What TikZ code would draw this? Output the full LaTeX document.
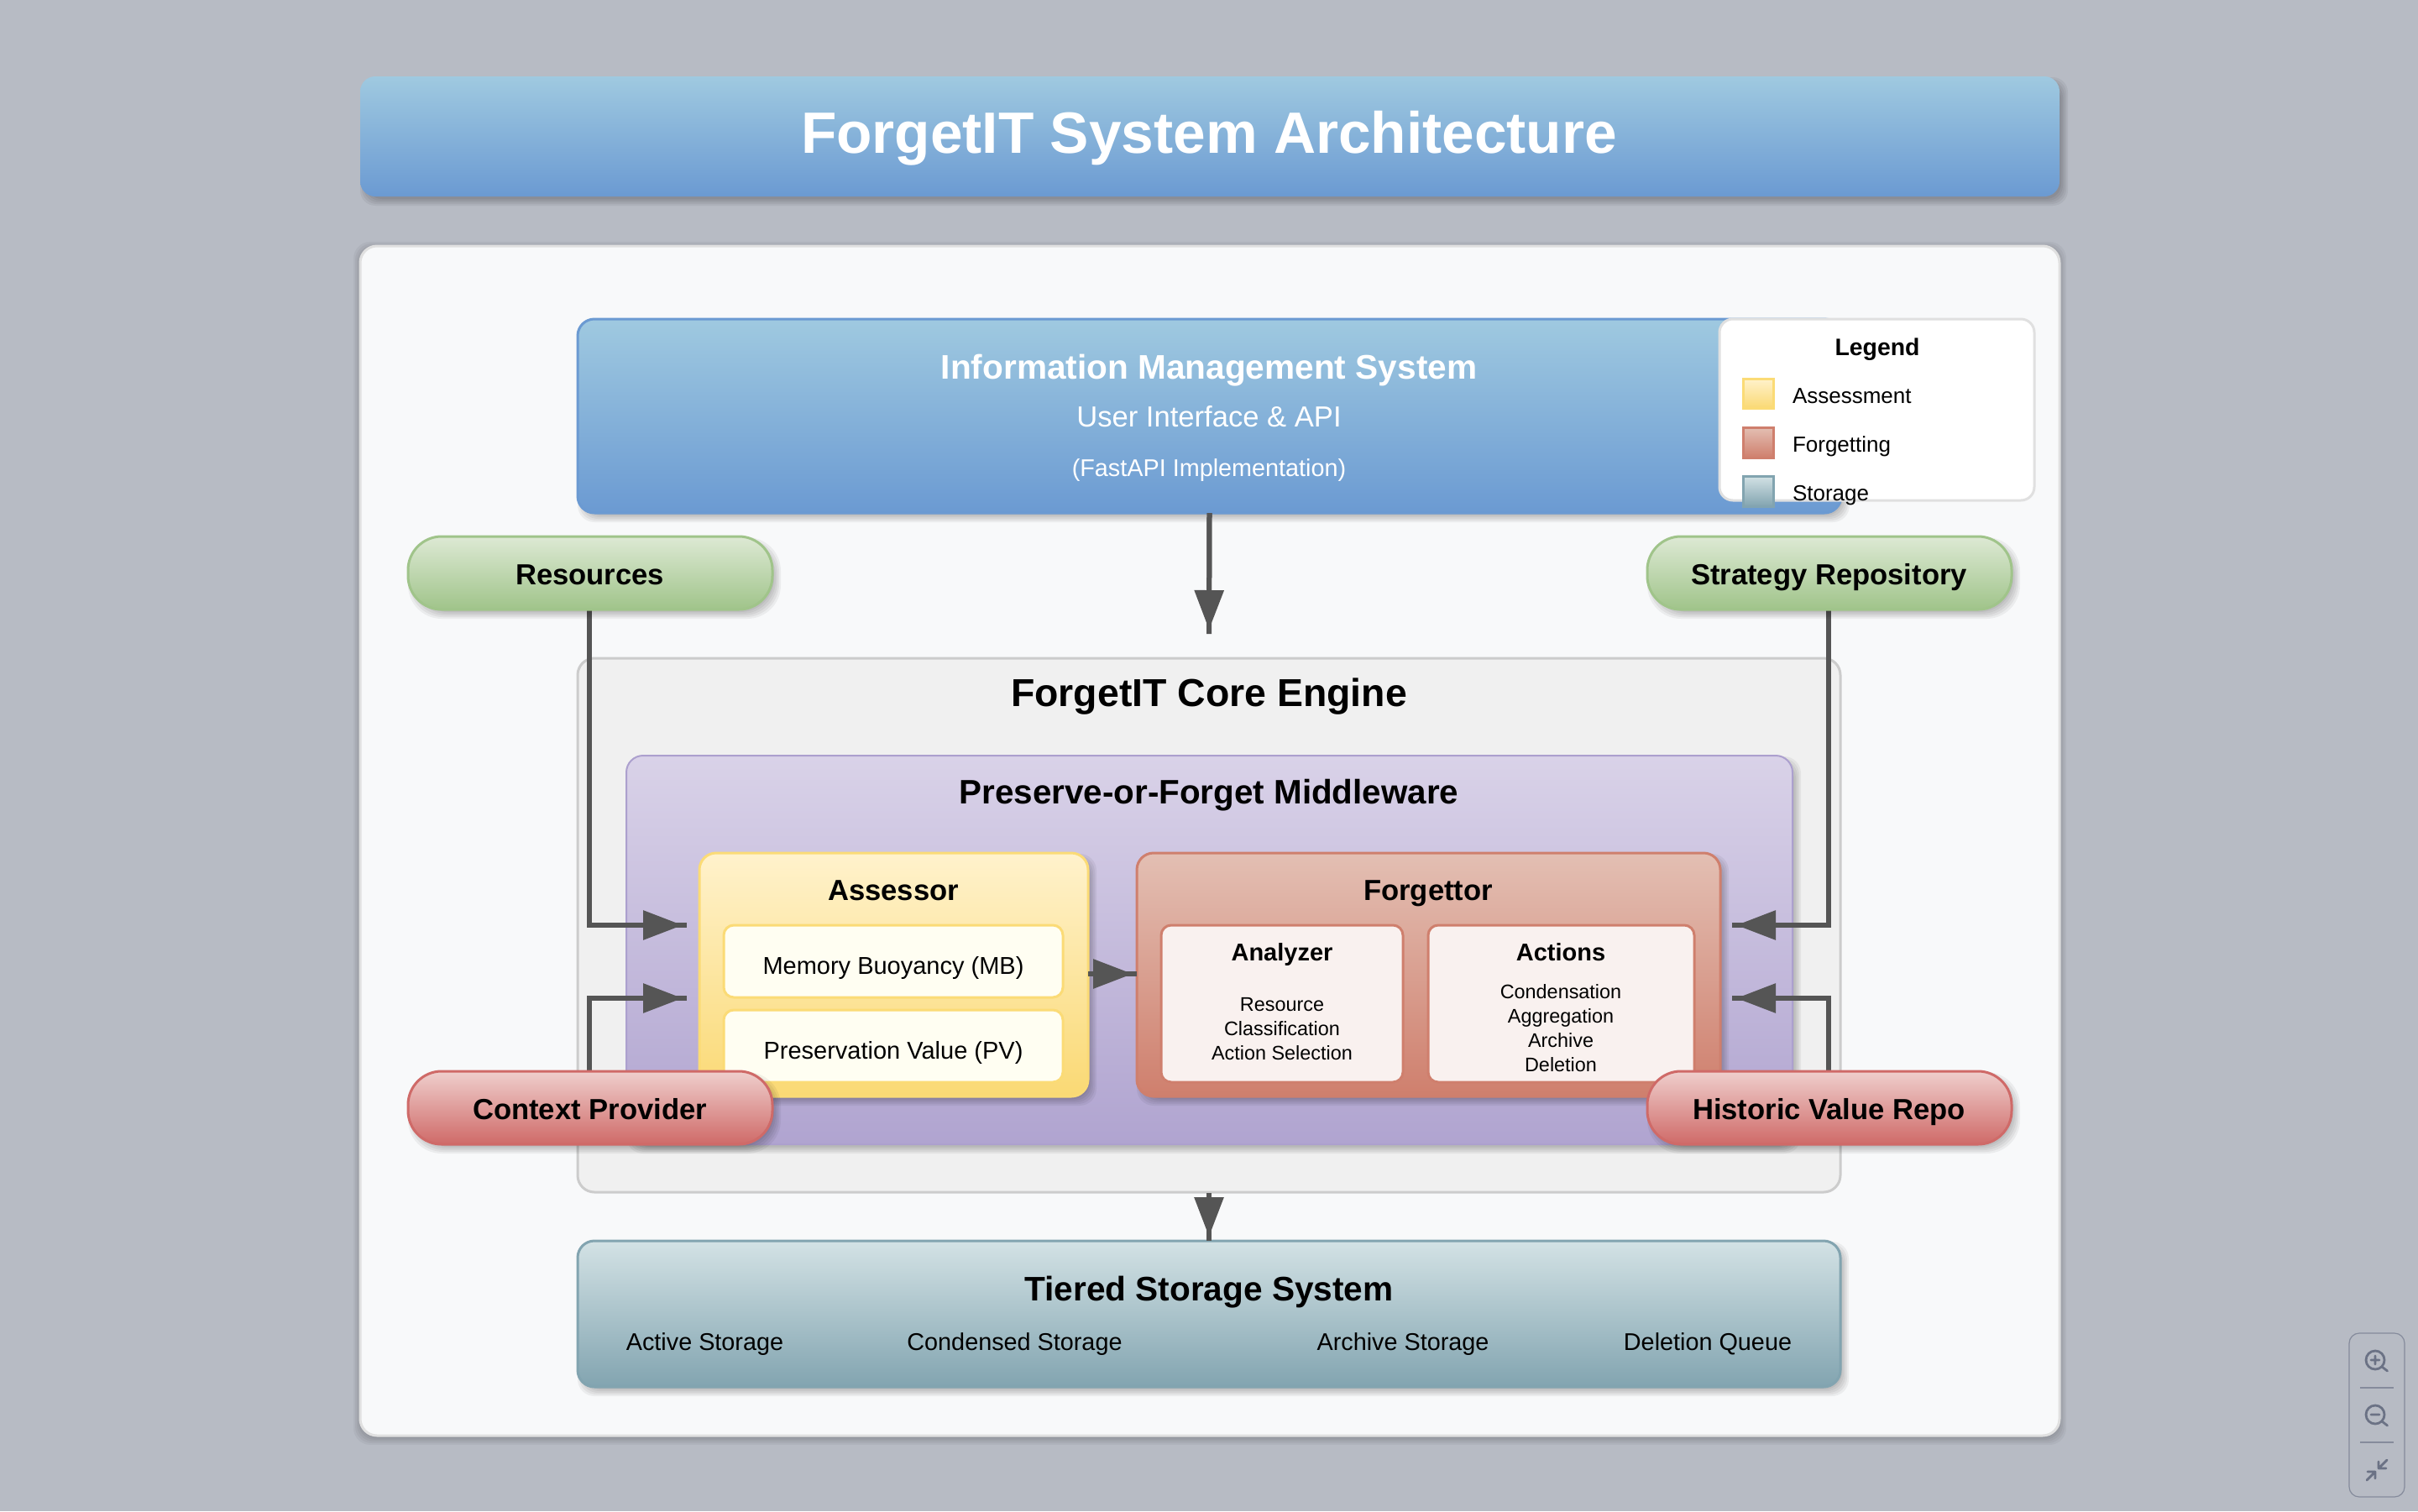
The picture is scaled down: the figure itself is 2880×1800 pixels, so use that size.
\documentclass[tikz,border=0pt]{standalone}
\usepackage{fontspec}
\setmainfont{Liberation Sans}
\usetikzlibrary{arrows.meta}
\definecolor{bgc}{HTML}{B7BBC4}
\definecolor{panelc}{HTML}{F8F9FA}
\definecolor{wirec}{HTML}{555555}
\definecolor{uic}{HTML}{6B7285}
\definecolor{uib}{HTML}{858B9C}
\tikzset{
  x=0.5pt,y=-0.5pt,
  plain/.style={rectangle,inner sep=0pt,outer sep=0pt},
  panelbox/.style={plain,fill=panelc,draw=black!12,line width=1.5pt,rounded corners=10pt},
  titlebox/.style={plain,top color=blueT,bottom color=blueB,rounded corners=9pt},
  imsbox/.style={plain,top color=blueT,bottom color=blueB,draw=blueB,line width=1.5pt,rounded corners=10pt},
  corebox/.style={plain,fill=black!6,draw=black!20,line width=1.5pt,rounded corners=10pt},
  midbox/.style={plain,top color=midT,bottom color=midB,draw=midS,line width=1pt,rounded corners=10pt},
  assbox/.style={plain,top color=assT,bottom color=assB,draw=assS,line width=1.5pt,rounded corners=10pt},
  forbox/.style={plain,top color=forT,bottom color=forB,draw=forB,line width=1.5pt,rounded corners=10pt},
  assitem/.style={plain,fill=assI,draw=assS,line width=1.5pt,rounded corners=6pt},
  foritem/.style={plain,fill=forI,draw=forB,line width=1.5pt,rounded corners=6pt},
  stobox/.style={plain,top color=stoT,bottom color=stoB,draw=stoB,line width=1.5pt,rounded corners=10pt},
  legbox/.style={plain,fill=white,draw=black!12,line width=1.5pt,rounded corners=8pt},
  greenpill/.style={plain,top color=greT,bottom color=greB,draw=greB,line width=1.5pt,rounded corners=20pt},
  redpill/.style={plain,top color=redT,bottom color=redB,draw=redB,line width=1.5pt,rounded corners=20pt},
  swass/.style={plain,top color=assT,bottom color=assB,draw=assS,line width=1.5pt},
  swfor/.style={plain,top color=forT,bottom color=forB,draw=forB,line width=1.5pt},
  swsto/.style={plain,top color=stoT,bottom color=stoB,draw=stoB,line width=1.5pt},
  txt/.style={plain,anchor=base,text=black},
  conn/.style={draw=wirec,line width=3pt,
    postaction={draw=wirec,line width=3pt,shorten >=2.5pt,
      -{Triangle[length=23.5pt,width=17pt]}}},
  uiline/.style={draw=uic,line width=1.4pt,line cap=round,line join=round},
}
\definecolor{blueT}{HTML}{9FC9E0}
\definecolor{blueB}{HTML}{6B9AD2}
\definecolor{midT}{HTML}{D9D2E8}
\definecolor{midB}{HTML}{B0A4D0}
\definecolor{midS}{HTML}{ACA0CE}
\definecolor{assT}{HTML}{FFF2CC}
\definecolor{assB}{HTML}{FAD974}
\definecolor{assS}{HTML}{FBDB76}
\definecolor{assI}{HTML}{FFFEF2}
\definecolor{forT}{HTML}{E3BFB3}
\definecolor{forB}{HTML}{CF7F6D}
\definecolor{forI}{HTML}{F9F1EF}
\definecolor{stoT}{HTML}{D3E2E5}
\definecolor{stoB}{HTML}{82A4B0}
\definecolor{greT}{HTML}{DDE9D4}
\definecolor{greB}{HTML}{A0C48A}
\definecolor{redT}{HTML}{EFCFCD}
\definecolor{redB}{HTML}{CF6A68}
% name, style, x1, y1, x2, y2 (all in reference pixels)
\newcommand\boxnode[6]{%
  \pgfmathsetmacro\bw{(#5-#3)*.5}\pgfmathsetmacro\bh{(#6-#4)*.5}%
  \node[#2,minimum width=\bw pt,minimum height=\bh pt] (#1) at ({(#3+#5)/2},{(#4+#6)/2}) {};}
% x1,y1,x2,y2,radius(pt)
\newcommand\softshadow[5]{%
  \foreach \s in {-3,-1,1,3,5}{%
    \fill[black,opacity=.05,rounded corners=#5pt] ({#1+5-\s},{#2+6-\s}) rectangle ({#3+5+\s},{#4+6+\s});}}
\newcommand\tlabel[7][black]{%
  \node[txt,text=#1,font=\fontsize{#5pt}{#5pt}\selectfont#6] (#2) at (#3,#4) {#7};}
\begin{document}
\begin{tikzpicture}
\useasboundingbox (0,0) rectangle (2880,1800);
\fill[bgc] (0,0) rectangle (2880,1800);
% main panel
\foreach \s in {-2,0,2,4,6,8}{\fill[black,opacity=.04,rounded corners=10pt] ({429-\s},{293+3-\s}) rectangle ({2453+\s},{1710+3+\s});}
\boxnode{panel}{panelbox}{429}{293}{2453}{1710}
% title
\softshadow{429}{91}{2453}{234}{9}
\boxnode{titlebar}{titlebox}{429}{91}{2453}{234}
\tlabel[white]{t0}{1440}{182}{34.7}{\bfseries}{ForgetIT System Architecture}
% information management system
\softshadow{688}{380}{2193}{611}{10}
\boxnode{ims}{imsbox}{688}{380}{2193}{611}
\tlabel[white]{t1}{1440}{451}{20.3}{\bfseries}{Information Management System}
\tlabel[white]{t2}{1440}{508}{17.3}{}{User Interface \& API}
\tlabel[white]{t3}{1440}{567}{14.4}{}{(FastAPI Implementation)}
% core engine
\boxnode{core}{corebox}{688}{784}{2192}{1420}
\tlabel{t4}{1440}{841}{23.2}{\bfseries}{ForgetIT Core Engine}
% middleware
\softshadow{746}{900}{2135}{1363}{10}
\boxnode{mid}{midbox}{746}{900}{2135}{1363}
\tlabel{t5}{1440}{957}{20.2}{\bfseries}{Preserve-or-Forget Middleware}
% assessor
\softshadow{833}{1016}{1296}{1306}{10}
\boxnode{assessor}{assbox}{833}{1016}{1296}{1306}
\tlabel{t6}{1064}{1072}{17.3}{\bfseries}{Assessor}
\boxnode{mb}{assitem}{862}{1102}{1266}{1188}
\tlabel{t7}{1064}{1160}{14.5}{}{Memory Buoyancy (MB)}
\boxnode{pv}{assitem}{862}{1203}{1266}{1289}
\tlabel{t8}{1064}{1261}{14.5}{}{Preservation Value (PV)}
% forgettor
\softshadow{1354}{1016}{2049}{1306}{10}
\boxnode{forgettor}{forbox}{1354}{1016}{2049}{1306}
\tlabel{t9}{1701}{1072}{17.3}{\bfseries}{Forgettor}
\boxnode{analyzer}{foritem}{1383}{1102}{1671}{1289}
\tlabel{t10}{1527}{1144}{14.5}{\bfseries}{Analyzer}
\tlabel{t11}{1527}{1204}{11.7}{}{Resource}
\tlabel{t12}{1527}{1233}{11.7}{}{Classification}
\tlabel{t13}{1527}{1262}{11.7}{}{Action Selection}
\boxnode{actions}{foritem}{1701}{1102}{2018}{1289}
\tlabel{t14}{1859}{1144}{14.5}{\bfseries}{Actions}
\tlabel{t15}{1859}{1189}{11.7}{}{Condensation}
\tlabel{t16}{1859}{1218}{11.7}{}{Aggregation}
\tlabel{t17}{1859}{1247}{11.7}{}{Archive}
\tlabel{t18}{1859}{1276}{11.7}{}{Deletion}
% storage
\softshadow{688}{1478}{2192}{1652}{10}
\boxnode{storage}{stobox}{688}{1478}{2192}{1652}
\tlabel{t19}{1440}{1549}{20.3}{\bfseries}{Tiered Storage System}
\tlabel{t20}{839.5}{1608}{14.4}{}{Active Storage}
\tlabel{t21}{1208.5}{1608}{14.4}{}{Condensed Storage}
\tlabel{t22}{1671}{1608}{14.4}{}{Archive Storage}
\tlabel{t23}{2034}{1608}{14.4}{}{Deletion Queue}
% legend
\boxnode{legend}{legbox}{2048}{380}{2423}{596}
\tlabel{t24}{2236}{423}{14.2}{\bfseries}{Legend}
\boxnode{sw1}{swass}{2076}{451}{2112}{486}
\node[txt,anchor=base west,font=\fontsize{13pt}{13pt}\selectfont] (t25) at (2135,480) {Assessment};
\boxnode{sw2}{swfor}{2076}{509}{2112}{545}
\node[txt,anchor=base west,font=\fontsize{13pt}{13pt}\selectfont] (t26) at (2135,538) {Forgetting};
\boxnode{sw3}{swsto}{2076}{567}{2112}{603}
\node[txt,anchor=base west,font=\fontsize{13pt}{13pt}\selectfont] (t27) at (2135,596) {Storage};
% free connector ends
\coordinate (imsEnd) at (1440,755);
\coordinate (assIn1) at (818,1102);
\coordinate (assIn2) at (818,1189);
\coordinate (forIn1) at (2063,1102);
\coordinate (forIn2) at (2063,1189);
\coordinate (assOut) at (1296,1160);
\coordinate (forOut) at (1354,1160);
\coordinate (stoTop) at (1440,1478);
\coordinate (coreBot) at (1440,1421);
\coordinate (resS) at (702,726);
\coordinate (ctxN) at (702,1276);
\coordinate (strS) at (2178,726);
\coordinate (hisN) at (2178,1276);
% connectors
\draw[conn] (ims.south) -- (imsEnd);
\draw[conn] (resS) |- (assIn1);
\draw[conn] (ctxN) |- (assIn2);
\draw[conn] (strS) |- (forIn1);
\draw[conn] (hisN) |- (forIn2);
\draw[conn] (assOut) -- (forOut);
\draw[conn] (coreBot) -- (stoTop);
% pills
\softshadow{486}{639}{920}{726}{20}
\boxnode{resources}{greenpill}{486}{639}{920}{726}
\tlabel{t28}{702.5}{696}{17.3}{\bfseries}{Resources}
\softshadow{1962}{639}{2396}{726}{20}
\boxnode{strategy}{greenpill}{1962}{639}{2396}{726}
\tlabel{t29}{2178.5}{696}{17.3}{\bfseries}{Strategy Repository}
\softshadow{486}{1276}{920}{1363}{20}
\boxnode{context}{redpill}{486}{1276}{920}{1363}
\tlabel{t30}{702.5}{1333}{17.3}{\bfseries}{Context Provider}
\softshadow{1962}{1276}{2396}{1363}{20}
\boxnode{historic}{redpill}{1962}{1276}{2396}{1363}
\tlabel{t31}{2178.5}{1333}{17.3}{\bfseries}{Historic Value Repo}
% zoom control
\draw[draw=uib,line width=.6pt,rounded corners=6pt] (2798,1588) rectangle (2864,1783);
\draw[draw=uib,line width=.6pt] (2811,1653) -- (2851,1653) (2811,1718) -- (2851,1718);
\draw[uiline] (2829,1620) circle [radius=11];
\draw[uiline] (2837,1628) -- (2843.5,1633) (2824,1620) -- (2834,1620) (2829,1615) -- (2829,1625);
\draw[uiline] (2829,1685) circle [radius=11];
\draw[uiline] (2837,1693) -- (2843.5,1698) (2824,1685) -- (2834,1685);
\draw[uiline] (2843,1739) -- (2833,1749) (2833,1741) -- (2833,1749) -- (2842,1749);
\draw[uiline] (2819,1763) -- (2829,1753) (2829,1761) -- (2829,1753) -- (2820,1753);
\end{tikzpicture}
\end{document}
